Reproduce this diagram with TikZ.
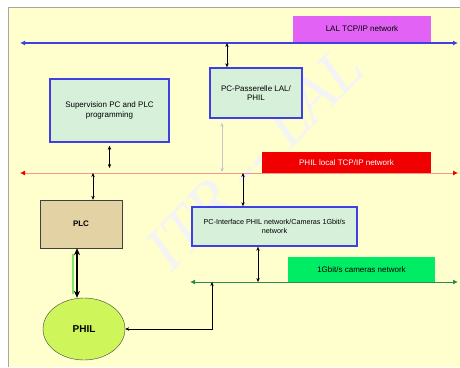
\documentclass[tikz,border=0pt]{standalone}
\usepackage{fontspec}
\setmainfont{Liberation Sans}
\newfontfamily\markfont{Liberation Serif}
\usetikzlibrary{arrows.meta,shapes.geometric,positioning}
\definecolor{paper}{RGB}{255,255,206}
\definecolor{boxgreen}{RGB}{214,240,218}
\definecolor{netblue}{RGB}{64,64,226}
\definecolor{lalmag}{RGB}{226,98,246}
\definecolor{philred}{RGB}{240,0,0}
\definecolor{redline}{RGB}{246,150,140}
\definecolor{camgreen}{RGB}{0,236,100}
\definecolor{camline}{RGB}{40,140,80}
\definecolor{plctan}{RGB}{226,210,164}
\definecolor{philgreen}{RGB}{206,246,90}

\begin{document}
\begin{tikzpicture}[x=1pt,y=-1pt,% positions are in pixels of the original
			every node/.style={
				align=center,		% "\\" breaks the lines
				font=\fontsize{8}{9.5}\selectfont,
				inner sep=1pt
			},
			pcbox/.style={rectangle,draw=netblue,line width=1.6pt,fill=boxgreen},
			tagbox/.style={rectangle,draw=none},
			link/.style={draw,thin,{Stealth[length=4pt,width=3.4pt]}-{Stealth[length=4pt,width=3.4pt]}},
			biglink/.style={draw,line width=1.3pt,{Stealth[length=7pt,width=6pt]}-{Stealth[length=7pt,width=6pt]}},
			net/.style={line width=1.1pt,{Latex[length=5pt,width=5pt]}-{Latex[length=5pt,width=5pt]}}
		]
		\useasboundingbox (0,0) rectangle (460,367);
		% paper
		\fill[paper] (8,7) rectangle (460,367);
		\draw[gray!70,line width=0.8pt] (8,367) -- (8,7) -- (460,7);
		\node[rotate=46,text=gray!9,font=\markfont\itshape\fontsize{64}{64}\selectfont] (mark) at (254,158) {ITR -- LAL};

		% networks
		\coordinate (lalW) at (20,43);
		\coordinate (lalE) at (458,43);
		\coordinate (redW) at (20,173);
		\coordinate (redE) at (458,173);
		\coordinate (grnW) at (190,282);
		\coordinate (grnE) at (458,282);
		\node[tagbox,fill=lalmag,minimum width=138,minimum height=26](laltag) at (362,29) {LAL TCP/IP network};
		\node[tagbox,fill=philred,text=white,minimum width=169,minimum height=21](redtag) at (346.5,162.5) {PHIL local TCP/IP network};
		\node[tagbox,fill=camgreen,minimum width=147,minimum height=25](camtag) at (361.5,269.5) {1Gbit/s cameras network};
		\draw[net,netblue] (lalW) -- (lalE);
		\draw[net,redline,line width=0.8pt,{Latex[length=5pt,width=5pt,color=philred]}-{Latex[length=5pt,width=5pt,color=philred]}] (redW) -- (redE);
		\draw[net,camline,line width=0.9pt] (grnW) -- (grnE);

		% machines
		\node[pcbox,minimum width=92,minimum height=50](pas) at (256,93) {PC-Passerelle LAL/\\PHIL};
		\node[pcbox,minimum width=119,minimum height=63](sup) at (109.5,110.5) {Supervision PC and PLC\\programming};
		\node[pcbox,minimum width=165,minimum height=39,font=\fontsize{7.2}{9}\selectfont](pci) at (274.5,226.5) {PC-Interface PHIL network/Cameras 1Gbit/s\\network};
		\node[rectangle,draw=black!75,thin,fill=plctan,minimum width=82,minimum height=48,font=\fontsize{8}{9}\selectfont\bfseries](plc) at (81,224) {PLC};
		\node[ellipse,draw=black!75,thin,fill=philgreen,minimum width=82,minimum height=62,font=\fontsize{10}{11}\selectfont\bfseries](phil) at (84,329) {PHIL};

		% links
		\coordinate (lalP) at (227,43);
		\coordinate (redS) at (110,173);
		\coordinate (redP) at (222,173);
		\coordinate (redL) at (93,173);
		\coordinate (redI) at (243,173);
		\coordinate (grnI) at (258,282);
		\coordinate (grnP) at (212,282);
		\path
		(lalP) edge [link] (lalP |- pas.north)
		(sup.south) edge [link,shorten <=3pt,shorten >=5pt] (sup.south |- redS)
		(redP |- pas.south) edge [link,gray!45,shorten <=4pt,shorten >=1pt] (redP)
		(redL) edge [link,semithick] (redL |- plc.north)
		(redI) edge [link,line width=1pt] (redI |- pci.north)
		(grnI |- pci.south) edge [link] (grnI)
		;
		\draw[green!80!black,opacity=0.5,line width=2pt] ([xshift=-8pt,yshift=-6pt]plc.south) -- ([xshift=-11pt,yshift=4pt]phil.north);
		\draw[biglink] ([xshift=-4pt]plc.south) -- ([xshift=-7pt]phil.north);
		\draw[link] (phil.east) -| (grnP);
	\end{tikzpicture}
\end{document}
